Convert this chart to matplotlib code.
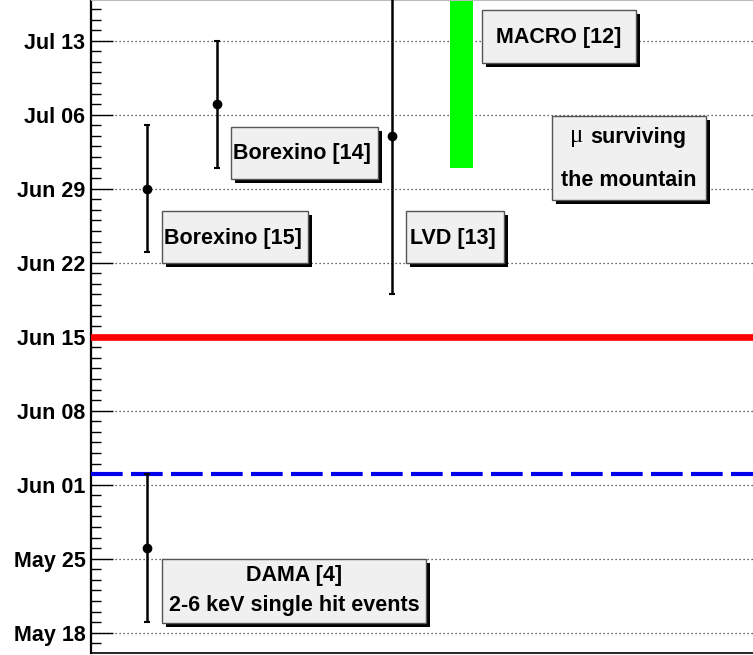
import matplotlib
matplotlib.use("Agg")
import matplotlib.pyplot as plt
from matplotlib.patches import Rectangle
from matplotlib.ticker import MultipleLocator

plt.rcParams['font.family'] = ['Liberation Sans', 'DejaVu Sans']
plt.rcParams['font.weight'] = 'bold'

# y values are day of year
tick_days = [138, 145, 152, 159, 166, 173, 180, 187, 194]
tick_labels = ["May 18", "May 25", "Jun 01", "Jun 08", "Jun 15",
               "Jun 22", "Jun 29", "Jul 06", "Jul 13"]

exp_names = ["DAMA", "Borexino [15]", "Borexino [14]", "LVD"]
exp_x = [0.0853, 0.0853, 0.1908, 0.4547]
exp_day = [146, 180, 188, 185]
exp_err = [7, 6, 6, 15]

macro_x = (0.5423, 0.5775)
macro_days = (182, 205)

june15 = 166
cosine_day = 153

ymin, ymax = 136.08, 197.85

W, H = 753, 655
fig = plt.figure(figsize=(W / 100, H / 100), dpi=100)
ax_l, ax_b, ax_t = 91, 2, 655
ax = fig.add_axes([ax_l / W, ax_b / H, 1 - ax_l / W, (ax_t - ax_b) / H])
ax.set_xlim(0, 1)
ax.set_ylim(ymin, ymax)

ax.set_yticks(tick_days)
ax.set_yticklabels(tick_labels)
ax.yaxis.set_minor_locator(MultipleLocator(1))
ax.tick_params(axis='y', which='major', direction='in', length=16, width=1,
               labelsize=15.5, pad=4)
ax.tick_params(axis='y', which='minor', direction='in', length=7, width=1)
ax.set_xticks([])
for t in ax.get_yticklabels():
    t.set_fontweight('bold')

ax.spines['right'].set_visible(False)
ax.spines['top'].set_color('#bbbbbb')
ax.spines['left'].set_linewidth(1.6)
ax.spines['bottom'].set_linewidth(1.2)

for d in tick_days:
    ax.axhline(d, color='#333333', lw=0.9, ls=(0, (1, 2.2)), zorder=1)

ax.axhline(june15, color='#ff0000', lw=4.8, zorder=3)
ax.axhline(cosine_day, color='#0000ee', lw=3, ls=(0, (7.6, 2.0)), zorder=3)

ax.fill_between(macro_x, macro_days[0], macro_days[1], color='#00ff00',
                lw=0, zorder=2)

ax.errorbar(exp_x, exp_day, yerr=exp_err, fmt='o', color='black', ms=6,
            elinewidth=1.8, capsize=2.5, capthick=1.5, zorder=4)


def px_box(x0, y0, x1, y1):
    # pixel box (top-left origin) -> axes fraction
    aw, ah = W - ax_l, ax_t - ax_b
    fx0 = (x0 - ax_l) / aw
    fx1 = (x1 - ax_l) / aw
    fy0 = (H - ax_b - y1) / ah
    fy1 = (H - ax_b - y0) / ah
    return fx0, fy0, fx1, fy1


def pave(x0, y0, x1, y1, lines, line_y, dx=0):
    aw, ah = W - ax_l, ax_t - ax_b
    fx0, fy0, fx1, fy1 = px_box(x0, y0, x1, y1)
    sx, sy = 4 / aw, 4 / ah
    ax.add_patch(Rectangle((fx0 + sx, fy0 - sy), fx1 - fx0, fy1 - fy0,
                           transform=ax.transAxes, facecolor='black',
                           edgecolor='none', zorder=5))
    ax.add_patch(Rectangle((fx0, fy0), fx1 - fx0, fy1 - fy0,
                           transform=ax.transAxes, facecolor='#f0f0f0',
                           edgecolor='#555555', lw=1, zorder=6))
    for txt, ly in zip(lines, line_y):
        if txt is None:
            continue
        ax.text((fx0 + fx1) / 2 + dx / aw, (H - ax_b - ly) / ah, txt,
                transform=ax.transAxes, ha='center', va='center',
                fontsize=15.5, fontweight='bold', zorder=7)
    return fx0, fx1


pave(482, 10, 636, 63, ["MACRO [12]"], [37])
pave(231, 127, 378, 179, ["Borexino [14]"], [154], dx=-3)
pave(162, 211, 308, 263, ["Borexino [15]"], [238], dx=-2)
pave(406, 211, 504, 263, ["LVD [13]"], [238], dx=-2)
pave(162, 559, 426, 623, ["DAMA [4]", "2-6 keV single hit events"], [575, 606])
pave(552, 116, 706, 200, [None, "the mountain"], [137, 180])

# "mu surviving" line
aw, ah = W - ax_l, ax_t - ax_b
ax.text((577 - ax_l) / aw, (H - ax_b - 136) / ah, "\u03bc",
        transform=ax.transAxes, ha='center', va='center', fontsize=18,
        fontweight='normal', family=['Liberation Serif', 'DejaVu Serif'],
        zorder=7)
ax.text((590 - ax_l) / aw, (H - ax_b - 137) / ah, "surviving",
        transform=ax.transAxes, ha='left', va='center', fontsize=15.5,
        fontweight='bold', zorder=7)

fig.savefig("out.png", dpi=100)
